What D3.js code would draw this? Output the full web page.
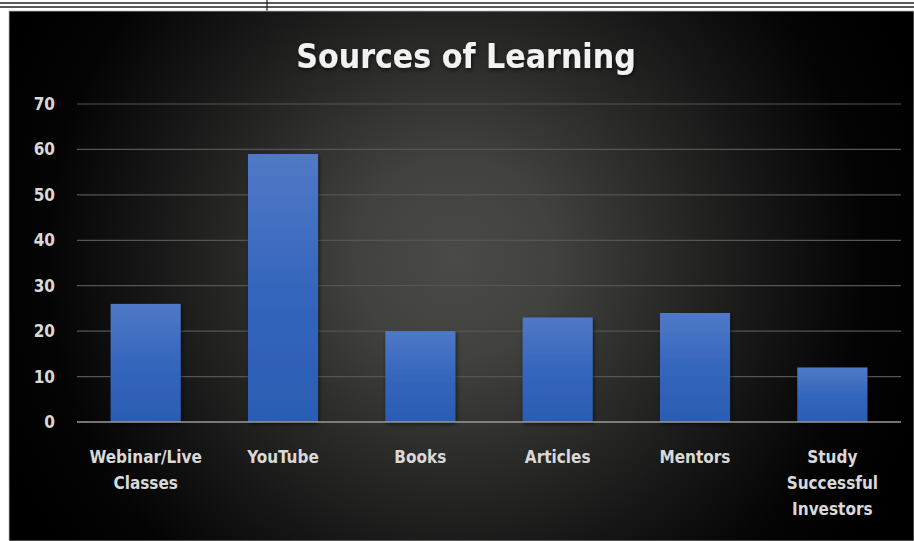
<!DOCTYPE html>
<html>
<head>
<meta charset="utf-8">
<script src="https://cdn.jsdelivr.net/npm/d3@7"></script>
<style>
  html, body { margin: 0; padding: 0; background: #fff; }
  svg { display: block; }
  .tick-label { font-family: "DejaVu Sans Condensed", "DejaVu Sans", sans-serif; font-weight: bold; fill: #d9d9d9; font-size: 17px; }
</style>
</head>
<body>
<div id="chart"></div>
<script>
// Chart data
const categories = ["Webinar/Live Classes", "YouTube", "Books", "Articles", "Mentors", "Study Successful Investors"];
const categoryLines = [["Webinar/Live", "Classes"], ["YouTube"], ["Books"], ["Articles"], ["Mentors"], ["Study", "Successful", "Investors"]];
const values = [26, 59, 20, 23, 24, 12];
const yTicks = [0, 10, 20, 30, 40, 50, 60, 70];
const chartTitle = "Sources of Learning";

const W = 914, H = 541;
const panel = { x: 9, y: 11, w: W - 9, h: H - 11 };
const margin = { top: 104, right: 13, bottom: 119, left: 77 };

const svg = d3.select("#chart").append("svg")
    .attr("width", W)
    .attr("height", H);

const defs = svg.append("defs");

// radial background
const bg = defs.append("radialGradient")
    .attr("id", "bgGrad")
    .attr("gradientUnits", "userSpaceOnUse")
    .attr("cx", 455).attr("cy", 258).attr("r", 500);
[[0, "#4a4a46"], [0.2, "#41413e"], [0.4, "#2c2c2a"], [0.62, "#161616"], [0.82, "#040404"], [1, "#000"]]
    .forEach(([o, c]) => bg.append("stop").attr("offset", o).attr("stop-color", c));

// bar gradient
const bar = defs.append("linearGradient")
    .attr("id", "barGrad")
    .attr("x1", 0).attr("y1", 0).attr("x2", 0).attr("y2", 1);
bar.append("stop").attr("offset", 0).attr("stop-color", "#5079c6");
bar.append("stop").attr("offset", 0.5).attr("stop-color", "#3566bd");
bar.append("stop").attr("offset", 1).attr("stop-color", "#2b5cb3");

const shadow = defs.append("filter").attr("id", "shadow")
    .attr("x", "-10%").attr("y", "-10%").attr("width", "130%").attr("height", "130%");
shadow.append("feDropShadow").attr("dx", 1).attr("dy", 2).attr("stdDeviation", 2)
    .attr("flood-color", "#000").attr("flood-opacity", 0.6);

// page lines on top
svg.append("line").attr("x1", 0).attr("x2", W).attr("y1", 3).attr("y2", 3)
    .attr("stroke", "#222").attr("stroke-width", 1.5);
svg.append("line").attr("x1", 0).attr("x2", W).attr("y1", 7).attr("y2", 7)
    .attr("stroke", "#222").attr("stroke-width", 1.5);
svg.append("line").attr("x1", 267).attr("x2", 267).attr("y1", 0).attr("y2", 11)
    .attr("stroke", "#222").attr("stroke-width", 1.2);

// chart panel
svg.append("rect")
    .attr("x", panel.x).attr("y", panel.y)
    .attr("width", panel.w).attr("height", panel.h)
    .attr("fill", "url(#bgGrad)")
    .attr("stroke", "#bbb").attr("stroke-width", 0.8);

const innerW = W - margin.left - margin.right;
const innerH = H - margin.top - margin.bottom;

const x = d3.scaleBand()
    .domain(categories)
    .range([0, innerW])
    .paddingInner(0.49)
    .paddingOuter(0.245);

const y = d3.scaleLinear()
    .domain([0, 70])
    .range([innerH, 0]);

const g = svg.append("g")
    .attr("transform", `translate(${margin.left},${margin.top})`);

// gridlines
g.append("g")
    .selectAll("line")
    .data(yTicks.filter(d => d > 0))
    .join("line")
    .attr("x1", 0).attr("x2", innerW)
    .attr("y1", d => y(d)).attr("y2", d => y(d))
    .attr("stroke", "#555553").attr("stroke-width", 1.2);

// y labels
g.append("g")
    .selectAll("text")
    .data(yTicks)
    .join("text")
    .attr("class", "tick-label")
    .attr("x", -22)
    .attr("y", d => y(d))
    .attr("dy", "0.35em")
    .attr("text-anchor", "end")
    .text(d => d);

// bars
g.append("g")
    .selectAll("rect")
    .data(values)
    .join("rect")
    .attr("x", (d, i) => x(categories[i]))
    .attr("y", d => y(d))
    .attr("width", x.bandwidth())
    .attr("height", d => innerH - y(d))
    .attr("fill", "url(#barGrad)")
    .attr("filter", "url(#shadow)");

// baseline
g.append("line")
    .attr("x1", 0).attr("x2", innerW)
    .attr("y1", innerH).attr("y2", innerH)
    .attr("stroke", "#9a9a9a").attr("stroke-width", 1.5);

// category labels
const labels = g.append("g")
    .selectAll("text")
    .data(categories)
    .join("text")
    .attr("class", "tick-label")
    .attr("text-anchor", "middle")
    .attr("x", d => x(d) + x.bandwidth() / 2)
    .attr("y", innerH + 41);

labels.selectAll("tspan")
    .data((d, i) => categoryLines[i])
    .join("tspan")
    .attr("x", function() { return d3.select(this.parentNode).attr("x"); })
    .attr("dy", (d, i) => i === 0 ? 0 : 26)
    .text(d => d);

// title
svg.append("text")
    .attr("x", 466)
    .attr("y", 68)
    .attr("text-anchor", "middle")
    .style("font-family", "'DejaVu Sans Condensed', 'DejaVu Sans', sans-serif")
    .style("font-weight", "bold")
    .style("font-size", "33.5px")
    .style("fill", "#f2f2f2")
    .attr("filter", "url(#shadow)")
    .text(chartTitle);
</script>
</body>
</html>
